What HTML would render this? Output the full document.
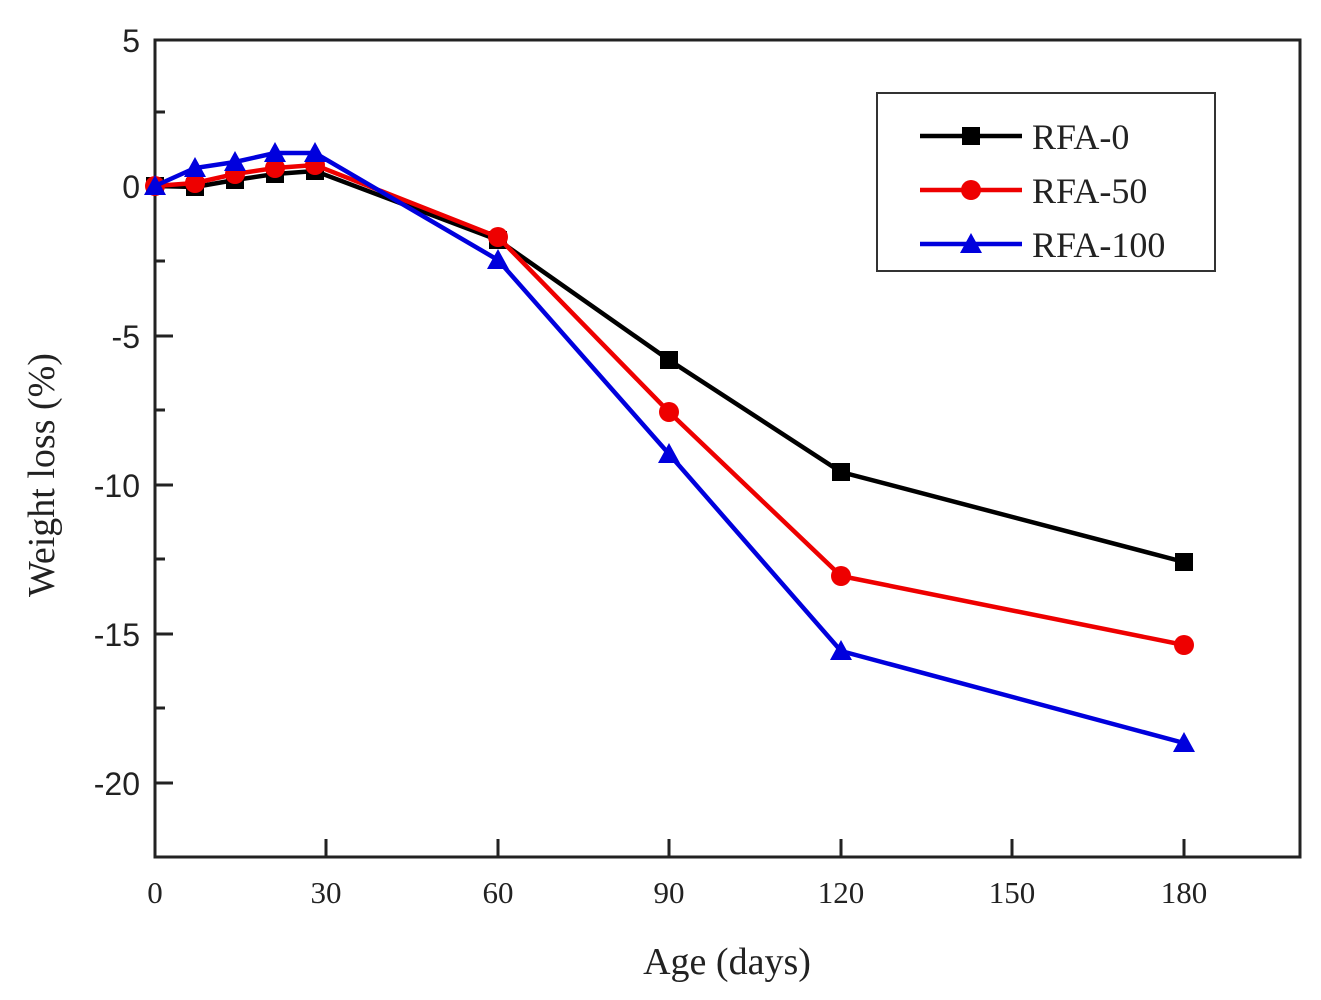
<!DOCTYPE html>
<html><head><meta charset="utf-8"><style>body{margin:0;background:#fff}svg{display:block}</style></head>
<body>
<svg width="1321" height="1000" viewBox="0 0 1321 1000" xmlns="http://www.w3.org/2000/svg">
<rect width="1321" height="1000" fill="#fff"/>
<rect x="155" y="40" width="1145" height="817" fill="none" stroke="#222" stroke-width="3"/>
<g stroke="#222" stroke-width="3">
<line x1="155" y1="186" x2="173" y2="186"/><line x1="155" y1="336" x2="173" y2="336"/><line x1="155" y1="485" x2="173" y2="485"/><line x1="155" y1="634" x2="173" y2="634"/><line x1="155" y1="783" x2="173" y2="783"/>
<line x1="155" y1="112" x2="165" y2="112"/><line x1="155" y1="261" x2="165" y2="261"/><line x1="155" y1="410" x2="165" y2="410"/><line x1="155" y1="559" x2="165" y2="559"/><line x1="155" y1="708" x2="165" y2="708"/>
<line x1="326" y1="857" x2="326" y2="839"/><line x1="498" y1="857" x2="498" y2="839"/><line x1="669" y1="857" x2="669" y2="839"/><line x1="841" y1="857" x2="841" y2="839"/><line x1="1012" y1="857" x2="1012" y2="839"/><line x1="1184" y1="857" x2="1184" y2="839"/>
</g>
<g font-family="Liberation Sans, sans-serif" font-size="32" fill="#222" text-anchor="end">
<text x="140" y="52">5</text><text x="140" y="198">0</text><text x="140" y="348">-5</text><text x="140" y="497">-10</text><text x="140" y="646">-15</text><text x="140" y="795">-20</text>
</g>
<g font-family="Liberation Serif, serif" font-size="31" fill="#222" text-anchor="middle">
<text x="155" y="903">0</text><text x="326" y="903">30</text><text x="498" y="903">60</text><text x="669" y="903">90</text><text x="841" y="903">120</text><text x="1012" y="903">150</text><text x="1184" y="903">180</text>
<text x="727" y="974" font-size="38">Age (days)</text>
<text transform="translate(54,475) rotate(-90)" font-size="38">Weight loss (%)</text>
</g>
<polyline fill="none" stroke="#000" stroke-width="4.5" points="155,186 195,187 235,180 275,174 315,171 498,240 669,360 841,472 1184,562"/>
<g fill="#000">
<rect x="146" y="177" width="18" height="18"/><rect x="186" y="178" width="18" height="18"/><rect x="226" y="171" width="18" height="18"/><rect x="266" y="165" width="18" height="18"/><rect x="306" y="162" width="18" height="18"/><rect x="489" y="231" width="18" height="18"/><rect x="660" y="351" width="18" height="18"/><rect x="832" y="463" width="18" height="18"/><rect x="1175" y="553" width="18" height="18"/>
</g>
<polyline fill="none" stroke="#e00" stroke-width="4.5" points="155,186 195,183 235,174 275,168 315,165 498,237 669,412 841,576 1184,645"/>
<g fill="#e00">
<circle cx="155" cy="186" r="10"/><circle cx="195" cy="183" r="10"/><circle cx="235" cy="174" r="10"/><circle cx="275" cy="168" r="10"/><circle cx="315" cy="165" r="10"/><circle cx="498" cy="237" r="10"/><circle cx="669" cy="412" r="10"/><circle cx="841" cy="576" r="10"/><circle cx="1184" cy="645" r="10"/>
</g>
<polyline fill="none" stroke="#00d" stroke-width="4.5" points="155,186 195,168 235,162 275,153 315,153 498,260 669,454 841,651 1184,743"/>
<g fill="#00d">
<polygon points="155,175 166,195 144,195"/><polygon points="195,157 206,177 184,177"/><polygon points="235,151 246,171 224,171"/><polygon points="275,142 286,162 264,162"/><polygon points="315,142 326,162 304,162"/><polygon points="498,249 509,269 487,269"/><polygon points="669,443 680,463 658,463"/><polygon points="841,640 852,660 830,660"/><polygon points="1184,732 1195,752 1173,752"/>
</g>
<rect x="877" y="93" width="338" height="178" fill="#fff" stroke="#333" stroke-width="2"/>
<line x1="920" y1="136" x2="1022" y2="136" stroke="#000" stroke-width="4.5"/><rect x="962" y="127" width="18" height="18" fill="#000"/>
<line x1="920" y1="190" x2="1022" y2="190" stroke="#e00" stroke-width="4.5"/><circle cx="971" cy="190" r="10" fill="#e00"/>
<line x1="920" y1="244" x2="1022" y2="244" stroke="#00d" stroke-width="4.5"/><polygon points="971,233 982,253 960,253" fill="#00d"/>
<g font-family="Liberation Serif, serif" font-size="36" fill="#222">
<text x="1032" y="149">RFA-0</text><text x="1032" y="203">RFA-50</text><text x="1032" y="257">RFA-100</text>
</g>
</svg>
</body></html>
